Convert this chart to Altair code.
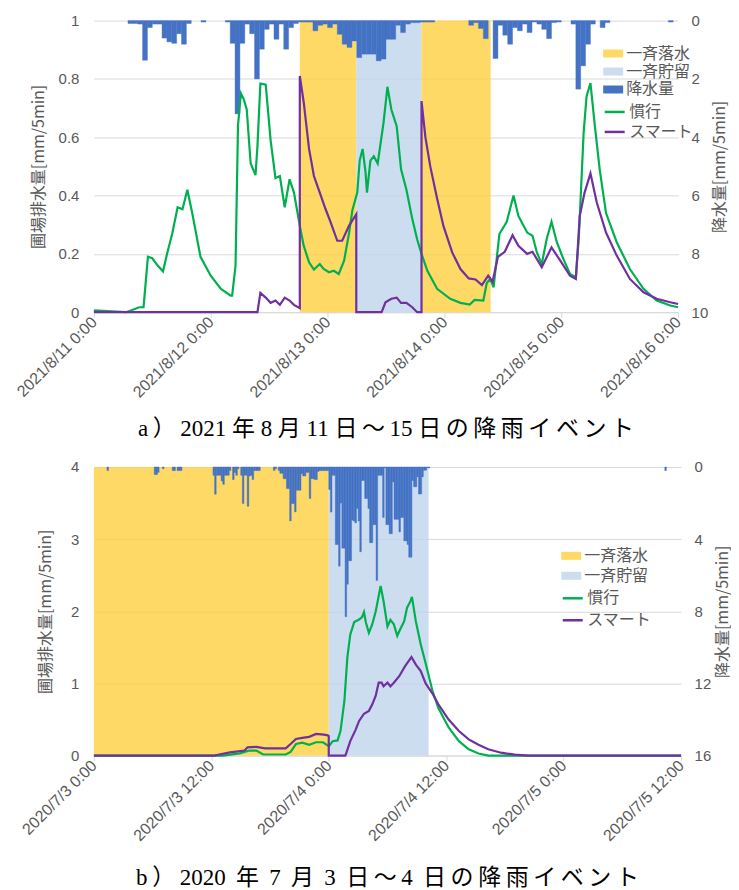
import altair as alt
import pandas as pd

# ------------------------------------------------------------------
# (a) 2021/8/11 0:00 - 2021/8/16 0:00   (x = hours from 2021/8/11 0:00)
# ------------------------------------------------------------------
a_rain_hour = [7, 8, 9, 10, 11, 12, 13, 14, 15, 16, 17, 18, 19, 22, 27, 28, 29, 30, 31, 32,
               33, 34, 35, 36, 37, 38, 39, 40, 41, 42, 43, 44, 45, 46, 47, 48, 49, 50, 51, 52,
               53, 54, 55, 56, 57, 58, 59, 60, 61, 62, 63, 64, 65, 66, 67, 68, 69, 77, 78, 79,
               80, 82, 83, 84, 85, 86, 87, 88, 89, 90, 91, 92, 93, 94, 95, 98, 99, 100, 101, 102,
               104, 105, 118]
a_rain_mm = [0.1, 0.1, 0.12, 1.36, 0.24, 0.12, 0.12, 0.6, 0.73, 0.78, 0.45, 0.81, 0.1, 0.05, 0.05, 0.78, 3.2, 0.78, 0.12, 0.45,
             2.0, 0.98, 0.3, 0.12, 0.64, 0.12, 0.98, 0.24, 0.1, 0.05, 0.05, 0.05, 0.35, 0.16, 0.12, 0.24, 0.12, 0.47, 0.81, 0.92,
             0.7, 1.27, 1.15, 1.15, 1.15, 1.38, 1.32, 0.64, 0.64, 0.16, 0.41, 0.12, 0.07, 0.07, 0.05, 0.05, 0.05, 0.16, 0.07, 0.27,
             0.62, 1.3, 0.16, 0.5, 0.81, 0.24, 0.35, 0.12, 0.41, 0.05, 0.12, 0.3, 0.62, 0.07, 0.05, 0.12, 2.35, 1.55, 0.81, 0.12,
             0.24, 0.07, 0.05]

a_conv_h = [0, 6.6, 7.6, 9.3, 10.2, 11.1, 12.0, 13.1, 14.2, 15.1, 16.1, 17.2, 18.2, 19.2, 20.2, 21.9, 24.0, 26.1,
            28.1, 28.4, 29.1, 29.6, 30.2, 30.8, 31.4, 32.2, 33.2, 33.6, 34.2, 35.3, 36.3, 37.3, 38.2, 39.2, 40.2,
            41.1, 42.3, 43.1, 44.2, 45.2, 46.4, 47.2, 48.3, 49.3, 50.3, 51.4, 52.4, 53.1, 54.1, 54.6, 55.2, 55.8,
            56.1, 56.8, 57.5, 58.3, 59.5, 60.3, 61.1, 62.2, 63.1, 64.2, 65.4, 66.4, 67.3, 68.5, 70.5, 73.2, 75.3,
            77.2, 78.2, 80.0, 80.7, 81.4, 82.1, 83.3, 84.8, 86.2, 87.2, 89.0, 90.1, 91.0, 92.0, 93.0, 94.0, 95.1,
            96.5, 97.8, 99.0, 99.6, 100.6, 101.2, 102.0, 102.9, 103.9, 105.2, 107.4, 110.1, 112.9, 115.6, 118.4, 120]
a_conv_v = [0.006, 0.0, 0.006, 0.017, 0.017, 0.19, 0.185, 0.16, 0.14, 0.205, 0.27, 0.36, 0.353, 0.42, 0.34, 0.19, 0.125, 0.08,
            0.057, 0.057, 0.16, 0.64, 0.75, 0.73, 0.695, 0.51, 0.47, 0.57, 0.784, 0.78, 0.59, 0.46, 0.467, 0.36, 0.456,
            0.41, 0.296, 0.228, 0.171, 0.146, 0.165, 0.148, 0.137, 0.142, 0.131, 0.177, 0.27, 0.35, 0.41, 0.52, 0.56, 0.48,
            0.41, 0.52, 0.535, 0.51, 0.65, 0.773, 0.695, 0.638, 0.49, 0.42, 0.32, 0.25, 0.2, 0.142, 0.08, 0.046, 0.032,
            0.026, 0.042, 0.04, 0.1, 0.114, 0.085, 0.268, 0.31, 0.40, 0.33, 0.273, 0.262, 0.205, 0.165, 0.25, 0.31, 0.24,
            0.18, 0.131, 0.12, 0.25, 0.615, 0.74, 0.786, 0.64, 0.49, 0.34, 0.24, 0.148, 0.08, 0.04, 0.023, 0.017]

a_smart_h = [0, 33.6, 34.2, 35.3, 36.3, 37.3, 38.2, 39.2, 40.2, 41.1, 42.3, 42.3, 43.1, 44.2, 45.2, 46.4, 47.6, 48.6,
             50.0, 51.0, 52.4, 53.9, 53.9, 59.1, 59.9, 61.1, 62.2, 63.1, 64.2, 65.4, 66.4, 67.3, 67.3, 68.1, 69.1,
             70.5, 71.8, 73.6, 75.3, 77.0, 78.4, 79.7, 81.0, 81.9, 83.0, 84.4, 86.0, 87.2, 89.0, 90.1, 92.0, 94.0,
             95.8, 97.8, 99.0, 99.8, 100.8, 102.0, 103.3, 105.2, 107.4, 110.1, 112.9, 115.6, 118.4, 120]
a_smart_v = [0, 0, 0.066, 0.05, 0.032, 0.04, 0.025, 0.05, 0.04, 0.025, 0.014, 0.81, 0.72, 0.56, 0.467, 0.41, 0.353, 0.31,
             0.245, 0.245, 0.296, 0.336, 0, 0, 0.034, 0.046, 0.05, 0.032, 0.032, 0.017, 0, 0, 0.724, 0.6, 0.5,
             0.39, 0.296, 0.205, 0.148, 0.116, 0.112, 0.093, 0.125, 0.105, 0.19, 0.207, 0.264, 0.228, 0.2, 0.207, 0.154, 0.222,
             0.177, 0.125, 0.114, 0.33, 0.41, 0.476, 0.376, 0.273, 0.194, 0.114, 0.068, 0.046, 0.034, 0.028]

a_band_start = [42.3, 53.9, 67.3]
a_band_end = [53.9, 67.3, 81.5]
a_band_name = ["一斉落水", "一斉貯留", "一斉落水"]

# ------------------------------------------------------------------
# (b) 2020/7/3 0:00 - 2020/7/5 12:00   (x = hours from 2020/7/3 0:00)
# ------------------------------------------------------------------
b_rain_bin = [8, 37, 38, 39, 42, 48, 49, 51, 52, 53,
              73, 74, 75, 76, 77, 78, 79, 80, 81, 82, 83, 85, 86, 87, 88, 90, 91, 92, 93, 94, 95, 96, 97, 98, 99, 100, 101,
              110, 111, 113, 114, 115, 116, 117, 118, 119, 120, 121, 122, 123, 124, 125, 126, 127, 128, 129, 130, 131,
              132, 133, 134, 135, 136, 137, 138, 139, 140, 141, 142, 143,
              144, 145, 146, 147, 148, 149, 150, 151, 152, 153, 154, 155, 156, 157, 158, 159, 160, 161, 162, 163,
              164, 165, 166, 167, 168, 169, 170, 171, 172, 173, 174, 175, 176, 177, 178, 179, 180, 181, 182, 183,
              184, 185, 186, 187, 188, 189, 190, 191, 192, 193, 194, 195, 196, 197, 198, 199, 200, 201, 202, 203,
              204, 205, 350]  # 10-minute bins
b_rain_mm = [0.2, 0.42, 0.42, 0.3, 0.1, 0.2, 0.2, 0.2, 0.2, 0.2,
             0.46, 1.51, 0.46, 0.46, 0.46, 0.78, 0.96, 0.46, 0.46, 0.46, 0.2, 0.7, 0.3, 0.46, 0.1, 0.46, 2.03, 0.46, 0.46,
             2.18, 0.5, 0.46, 0.7, 0.2, 0.2, 0.2, 0.2,
             0.2, 0.1, 0.2, 0.35, 0.35, 0.65, 0.65, 1.2, 1.2, 2.99, 2.03, 2.03, 2.49, 1.29, 1.29, 1.29, 0.37, 0.5, 0.5, 0.3, 0.3,
             1.75, 0.65, 0.65, 0.7, 0.7, 0.25, 0.2, 0.2, 0.2, 0.2, 0.2, 0.2,
             1.25, 2.5, 0.46, 0.46, 4.3, 4.3, 5.5, 2.0, 4.5, 4.5, 8.3, 6.5, 5.2, 5.2, 2.95, 3.0, 3.1, 2.3, 3.0, 4.7,
             0.75, 0.75, 1.75, 1.75, 2.3, 4.2, 4.2, 3.2, 3.2, 6.3, 0.46, 0.46, 0.46, 2.8, 0.05, 3.2, 3.2, 3.7, 3.7, 0.83,
             2.9, 2.9, 2.9, 3.6, 2.8, 2.8, 4.1, 4.1, 4.3, 5.0, 5.0, 0.75, 1.1, 1.1, 0.55, 1.5, 1.5, 0.55, 0.18, 0.18,
             0.05, 0.05, 0.2]

b_conv_h = [0, 13.2, 14.9, 15.9, 16.6, 17.3, 19.6, 20.1, 20.65, 21.3, 22.0, 22.7, 23.4, 23.9, 24.04, 24.4, 24.9, 25.2,
            25.6, 25.9, 26.2, 26.6, 27.1, 27.4, 27.6, 27.8, 28.1, 28.45, 28.8, 29.0, 29.3, 29.6, 30.0, 30.3, 30.65,
            31.0, 31.3, 31.7, 32.0, 32.35, 32.5, 32.9, 33.4, 33.9, 34.6, 35.2, 36.25, 37.3, 38.3, 39.3, 40.3, 60]
b_conv_v = [0, 0, 0.03, 0.07, 0.07, 0.015, 0.015, 0.05, 0.16, 0.18, 0.15, 0.185, 0.185, 0.14, 0.134, 0.2, 0.21, 0.34,
            0.76, 1.36, 1.68, 1.85, 1.885, 1.92, 1.99, 1.84, 1.70, 1.82, 2.0, 2.14, 2.35, 2.14, 1.79, 1.88, 1.82,
            1.66, 1.75, 1.86, 2.05, 2.14, 2.2, 1.86, 1.54, 1.28, 0.895, 0.66, 0.39, 0.2, 0.087, 0.028, 0, 0]

b_smart_h = [0, 12.3, 13.9, 15.4, 15.7, 16.6, 17.5, 19.6, 20.1, 20.65, 21.3, 22.0, 22.7, 23.5, 23.9, 24.0, 24.0, 25.7,
             26.2, 26.75, 27.1, 27.6, 28.1, 28.45, 28.8, 29.1, 29.4, 29.6, 30.0, 30.3, 30.65, 31.2, 31.8, 32.45,
             32.9, 33.4, 33.9, 34.6, 35.2, 36.25, 37.3, 38.3, 39.3, 40.3, 41.6, 43.0, 44.4, 60]
b_smart_v = [0, 0, 0.045, 0.07, 0.115, 0.12, 0.1, 0.1, 0.16, 0.23, 0.245, 0.26, 0.30, 0.29, 0.28, 0.27, 0, 0,
             0.2, 0.36, 0.48, 0.58, 0.62, 0.71, 0.83, 1.01, 1.01, 0.96, 1.01, 0.96, 1.01, 1.10, 1.24, 1.365,
             1.26, 1.17, 1.0, 0.86, 0.71, 0.50, 0.34, 0.225, 0.15, 0.087, 0.04, 0.012, 0, 0]

b_band_start = [0, 24]
b_band_end = [24, 34.2]
b_band_name = ["一斉落水", "一斉貯留"]

# ------------------------------------------------------------------
GREY = "#595959"
NUM_FONT = "Liberation Sans"
JP_FONT = "Noto Sans CJK JP"
CAP_FONT = '"Liberation Serif", "Noto Sans CJK JP", serif'
BAND_OPACITY = 0.8
YELLOW = "#FFCF40"      # appears as #FFD966 at 0.8 opacity
LBLUE = "#BFD4EB"       # appears as #CCDDEF at 0.8 opacity
RAIN_SWATCH = "#154FB5"  # legend swatch, appears as #4472C4 at 0.8 opacity
RAIN = "#4472C4"
GREEN = "#00B050"
PURPLE = "#7030A0"
RECT_SYMBOL = "M-1,-0.4H1V0.4H-1Z"


def panel(band_s, band_e, band_n, rain_start, rain_end, rain_mm, conv_h, conv_v, smart_h, smart_v, *,
          base, xmax, xstep, yvals, rvals, width, height, rain_in_legend, lx, ly_fill, ly_stroke,
          row_pad, ytitle_pad, cap_offset, caption):
    bands = pd.DataFrame({"start": band_s, "end": band_e, "name": band_n})
    rain = pd.DataFrame({"start": rain_start, "end": rain_end, "mm": rain_mm,
                         "zero": [0] * len(rain_mm)})
    conv = pd.DataFrame({"h": conv_h, "v": conv_v, "series": "慣行", "i": range(len(conv_h))})
    smart = pd.DataFrame({"h": smart_h, "v": smart_v, "series": "スマート", "i": range(len(smart_h))})

    label_expr = (f"timeFormat(time(datetime({base[0]}, {base[1] - 1}, {base[2]})) + datum.value * 3600000, "
                  "'%Y/%-m/%-d %-H:%M')")
    xs = alt.Scale(domain=[0, xmax], nice=False, zero=False)
    xaxis = alt.Axis(values=list(range(0, xmax + 1, xstep)), labelExpr=label_expr, labelAngle=315,
                     labelAlign="right", labelBaseline="middle", labelFont=NUM_FONT, labelFontSize=16,
                     labelColor=GREY, labelPadding=2, tickSize=5, tickColor="#d9d9d9",
                     domainColor="#d9d9d9", grid=False, title=None, labelOverlap=False)

    if rain_in_legend:
        fdom = ["一斉落水", "一斉貯留", "降水量"]
        frange = [YELLOW, LBLUE, RAIN_SWATCH]
    else:
        fdom = ["一斉落水", "一斉貯留"]
        frange = [YELLOW, LBLUE]
    fill_legend = alt.Legend(orient="none", legendX=lx, legendY=ly_fill, title=None,
                             symbolType=RECT_SYMBOL, symbolSize=400, symbolStrokeWidth=0,
                             labelFont=JP_FONT, labelFontSize=16, labelColor=GREY, labelOffset=3,
                             rowPadding=row_pad, padding=0)
    fill_scale = alt.Scale(domain=fdom, range=frange)
    stroke_legend = alt.Legend(orient="none", legendX=lx, legendY=ly_stroke, title=None,
                               symbolType="stroke", symbolSize=400, symbolStrokeWidth=2.5,
                               labelFont=JP_FONT, labelFontSize=16, labelColor=GREY, labelOffset=3,
                               rowPadding=row_pad, padding=0)
    stroke_scale = alt.Scale(domain=["慣行", "スマート"], range=[GREEN, PURPLE])

    band_layer = alt.Chart(bands).mark_rect(opacity=BAND_OPACITY).encode(
        x=alt.X("start:Q", scale=xs, axis=xaxis),
        x2="end:Q",
        fill=alt.Fill("name:N", scale=fill_scale, legend=fill_legend),
    )

    rain_y = alt.Y("mm:Q", scale=alt.Scale(domain=[0, rvals[-1]], reverse=True, nice=False, zero=False),
                   axis=alt.Axis(orient="right", values=rvals, grid=False, domain=False, ticks=False,
                                 labelFont=NUM_FONT, labelFontSize=15, labelColor=GREY, labelPadding=13,
                                 title="降水量[mm/5min]", titleFont=JP_FONT, titleFontSize=16,
                                 titleFontWeight="normal", titleColor=GREY, titleAngle=270,
                                 titleBaseline="top", titlePadding=4))
    rain_layer = alt.Chart(rain).mark_rect(stroke=RAIN, strokeWidth=0.4).encode(
        x=alt.X("start:Q", scale=xs, axis=xaxis),
        x2="end:Q",
        y=rain_y,
        y2="zero:Q",
        fill=alt.value(RAIN),
    )

    left_y = alt.Y("v:Q", scale=alt.Scale(domain=[0, yvals[-1]], nice=False),
                   axis=alt.Axis(orient="left", values=yvals, format="~g", grid=True, gridColor="#d9d9d9",
                                 domain=False, ticks=False, labelFont=NUM_FONT, labelFontSize=15,
                                 labelColor=GREY, labelPadding=15, title="圃場排水量[mm/5min]",
                                 titleFont=JP_FONT, titleFontSize=16, titleFontWeight="normal",
                                 titleColor=GREY, titlePadding=ytitle_pad))
    conv_layer = alt.Chart(conv).mark_line(strokeWidth=2.2).encode(
        x=alt.X("h:Q", scale=xs, axis=xaxis), y=left_y,
        stroke=alt.Stroke("series:N", scale=stroke_scale, legend=stroke_legend),
        order="i:Q",
    )
    smart_layer = alt.Chart(smart).mark_line(strokeWidth=2.2).encode(
        x=alt.X("h:Q", scale=xs, axis=xaxis), y=left_y,
        stroke=alt.Stroke("series:N", scale=stroke_scale, legend=stroke_legend),
        order="i:Q",
    )
    lines = alt.layer(conv_layer, smart_layer)

    return alt.layer(band_layer, rain_layer, lines).resolve_scale(y="independent").properties(
        width=width, height=height,
        title=alt.TitleParams(caption, orient="bottom", anchor="middle", frame="group", font=CAP_FONT,
                              fontSize=23, fontWeight="normal", color="black", offset=cap_offset),
    )


T = "\u2009"
chart_a = panel(a_band_start, a_band_end, a_band_name,
                a_rain_hour, [h + 1 for h in a_rain_hour], a_rain_mm,
                a_conv_h, a_conv_v, a_smart_h, a_smart_v,
                base=(2021, 8, 11), xmax=120, xstep=24,
                yvals=[0, 0.2, 0.4, 0.6, 0.8, 1], rvals=[0, 2, 4, 6, 8, 10],
                width=585, height=292, rain_in_legend=True,
                lx=510, ly_fill=23, ly_stroke=80, row_pad=0, ytitle_pad=12, cap_offset=18,
                caption=f"a{T}）{T}2021 年 8 月 11 日{T}～{T}15 日{T}の{T}降{T}雨{T}イ{T}ベ{T}ン{T}ト")

chart_b = panel(b_band_start, b_band_end, b_band_name,
                [k / 6 for k in b_rain_bin], [(k + 1) / 6 for k in b_rain_bin], b_rain_mm,
                b_conv_h, b_conv_v, b_smart_h, b_smart_v,
                base=(2020, 7, 3), xmax=60, xstep=12,
                yvals=[0, 1, 2, 3, 4], rvals=[0, 4, 8, 12, 16],
                width=588, height=289, rain_in_legend=False,
                lx=468, ly_fill=79, ly_stroke=120, row_pad=2, ytitle_pad=17, cap_offset=23,
                caption=(f"b{T}）{T}2020{T} 年 {T}7{T} 月 {T}3{T} 日{T}～{T}4{T} 日{T}の{T}降{T}雨{T}イ{T}ベ{T}ン{T}ト"))

chart = alt.concat(chart_a, chart_b, columns=1, spacing=18, align="none").resolve_scale(
    x="independent", y="independent", fill="independent", stroke="independent"
).resolve_legend(fill="independent", stroke="independent").properties(
    padding={"left": 5, "top": 5, "right": 0, "bottom": 0}
).configure_view(stroke=None)

chart.save("out.html", embed_options={"renderer": "svg", "actions": False})
